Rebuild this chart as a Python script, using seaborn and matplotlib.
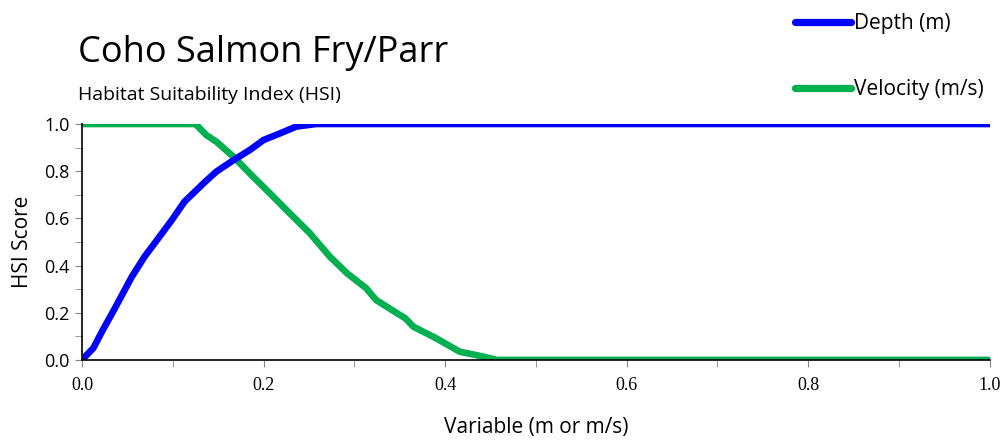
import numpy as np
import pandas as pd
import seaborn as sns
import matplotlib.pyplot as plt
from matplotlib.lines import Line2D

depth_x = [0.0, 0.0125, 0.023, 0.035, 0.055, 0.069, 0.084, 0.099, 0.113, 0.134,
           0.148, 0.167, 0.185, 0.2, 0.218, 0.236, 0.258, 1.0]
depth_y = [0.0, 0.05, 0.127, 0.21, 0.353, 0.438, 0.515, 0.593, 0.671, 0.749,
           0.798, 0.847, 0.89, 0.932, 0.96, 0.989, 1.0, 1.0]

vel_x = [0.0, 0.125, 0.137, 0.148, 0.167, 0.185, 0.207, 0.229, 0.251, 0.273,
         0.292, 0.313, 0.324, 0.347, 0.356, 0.365, 0.39, 0.416, 0.442, 0.457, 1.0]
vel_y = [1.0, 1.0, 0.953, 0.925, 0.861, 0.79, 0.706, 0.621, 0.537, 0.438,
         0.367, 0.304, 0.254, 0.198, 0.177, 0.141, 0.092, 0.035, 0.014, 0.0, 0.0]

depth = pd.DataFrame({"x": depth_x, "y": depth_y, "series": "Depth (m)"})
velocity = pd.DataFrame({"x": vel_x, "y": vel_y, "series": "Velocity (m/s)"})
colors = {"Depth (m)": "#0000ff", "Velocity (m/s)": "#00b050"}

sns.set_style("white")
plt.rcParams["text.color"] = "black"
plt.rcParams["axes.labelcolor"] = "black"
plt.rcParams["xtick.color"] = "black"
plt.rcParams["ytick.color"] = "black"
sans = ["Open Sans", "DejaVu Sans"]

fig = plt.figure(figsize=(10.08, 4.46), dpi=100)
ax = fig.add_axes([0.0813, 0.193, 0.9007, 0.529])

sns.lineplot(data=velocity, x="x", y="y", color=colors["Velocity (m/s)"], lw=4.8,
             ax=ax, sort=False, estimator=None)
sns.lineplot(data=depth, x="x", y="y", color=colors["Depth (m)"], lw=4.8,
             ax=ax, sort=False, estimator=None)

ax.set_xlim(0, 1.0)
ax.set_ylim(0, 1.0)
ticks = np.arange(0, 1.01, 0.2)
ax.set_xticks(ticks)
ax.set_xticks(np.arange(0, 1.01, 0.1), minor=True)
ax.set_yticks(ticks)
ax.set_yticks(np.arange(0, 1.01, 0.1), minor=True)
ax.set_xticklabels([f"{v:.1f}" for v in ticks], family="Liberation Serif", fontsize=13)
ax.set_yticklabels([f"{v:.1f}" for v in ticks], family=sans, fontsize=13)
ax.tick_params(which="both", direction="out", length=5, color="#888888",
               bottom=True, left=True)
ax.tick_params(axis="x", pad=7)
ax.tick_params(axis="y", pad=4)

for side in ["top", "right"]:
    ax.spines[side].set_visible(False)
for side in ["left", "bottom"]:
    ax.spines[side].set_color("black")
    ax.spines[side].set_linewidth(1.2)

ax.set_xlabel("Variable (m or m/s)", family=sans, fontsize=15, labelpad=17)
ax.set_ylabel("HSI Score", family=sans, fontsize=15, labelpad=8)

fig.text(0.077, 0.882, "Coho Salmon Fry/Parr", family=sans, fontsize=26, va="center")
fig.text(0.077, 0.788, "Habitat Suitability Index (HSI)", family=sans, fontsize=14, va="center")

handles = [Line2D([], [], color=c, lw=5.2, solid_capstyle="round") for c in colors.values()]
leg = fig.legend(handles, list(colors.keys()), loc="upper left",
                 bbox_to_anchor=(0.77, 1.012), frameon=False, handlelength=2.7,
                 handletextpad=0.15, labelspacing=2.15, prop={"family": sans, "size": 15})

fig.savefig("out.png", dpi=100)
